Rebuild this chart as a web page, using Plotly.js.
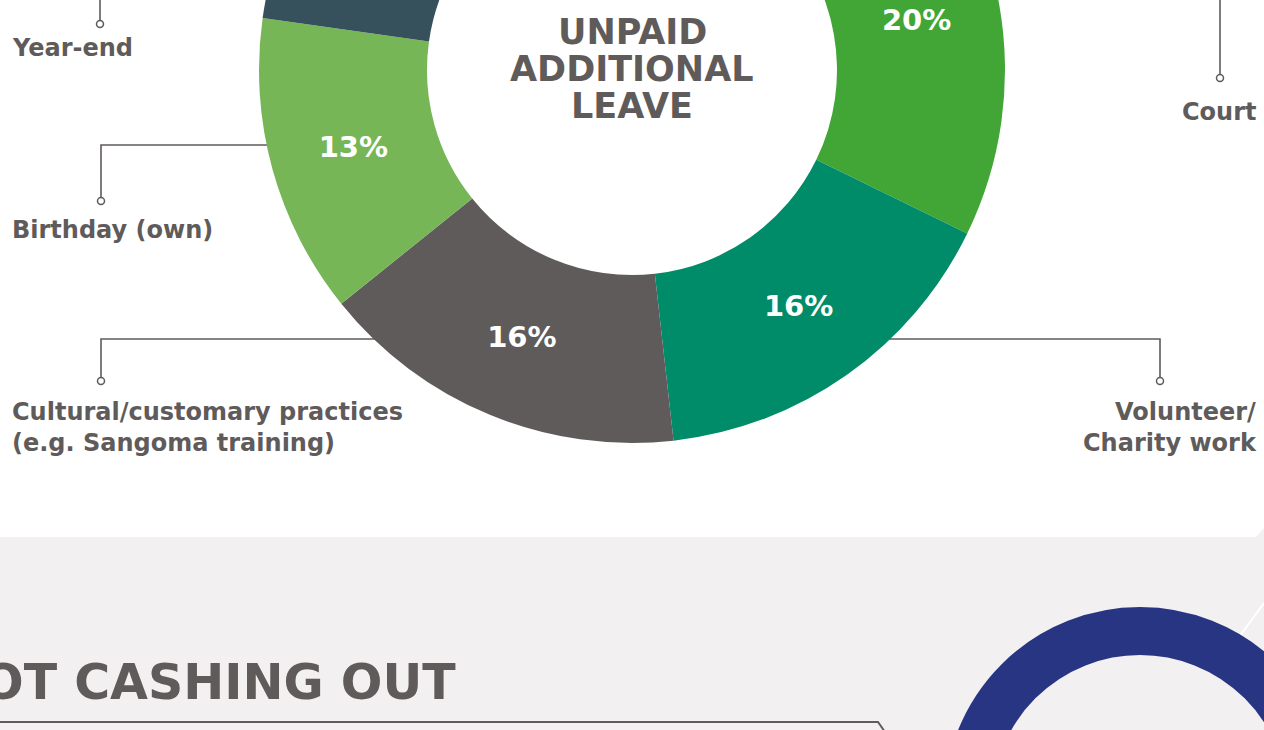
<!DOCTYPE html>
<html>
<head>
<meta charset="utf-8">
<script src="https://cdn.plot.ly/plotly-3.0.1.min.js"></script>
<style>
  html, body { margin: 0; padding: 0; width: 1264px; height: 730px; overflow: hidden; background: #f2f0f1; }
  #chart { position: absolute; left: 0; top: -330px; width: 1264px; height: 1100px; }
</style>
</head>
<body>
<div id="chart"></div>
<script>
// ---- data ----
const categories = ["Court", "Volunteer/<br>Charity work", "Cultural/customary practices<br>(e.g. Sangoma training)", "Birthday (own)", "Year-end", "Study/exam", "Religious"];
const shares = [20, 16, 16, 13, 12, 12, 11];
const sliceColors = ["#42a637", "#008b69", "#5f5b5a", "#77b657", "#36505c", "#1f6f86", "#9ccb6b"];
const sliceTextShown = [true, true, true, true, false, false, false];
const centreTitle = ["UNPAID", "ADDITIONAL", "LEAVE"];
const sectionHeading = "NOT CASHING OUT";

const grey = "#5f5b5a";
const FONT = "DejaVu Sans";

const pie = {
  type: "pie",
  labels: categories,
  values: shares,
  sort: false,
  direction: "clockwise",
  rotation: 44,
  hole: 0.5496,
  marker: { colors: sliceColors, line: { width: 0 } },
  textposition: "inside",
  insidetextorientation: "horizontal",
  texttemplate: sliceTextShown.map(s => s ? "%{value}%" : ""),
  insidetextfont: { family: FONT, size: 29, color: "#ffffff", weight: 700 },
  domain: { x: [259 / 1264, 1005 / 1264], y: [0.29727, 0.97545] },
  showlegend: false,
  hoverinfo: "label+percent"
};

const lineStyle = { color: grey, width: 1.6 };
const shapes = [
  // white top panel with chamfered corner
  { type: "path", xref: "x", yref: "y", layer: "below", path: "M0,-330 L1264,-330 L1264,528 L1256,537 L0,537 Z", fillcolor: "#ffffff", line: { width: 0 } },
  // faint diagonal
  { type: "line", xref: "x", yref: "y", layer: "below", x0: 1264, y0: 603, x1: 1236, y1: 641, line: { color: "#ffffff", width: 2 } },
  // blue ring
  { type: "circle", xref: "x", yref: "y", layer: "below", x0: 968, x1: 1312, y0: 631, y1: 975, line: { color: "#283583", width: 48 }, fillcolor: "rgba(0,0,0,0)" },
  // heading underline
  { type: "path", xref: "x", yref: "y", layer: "below", path: "M-5,722 L878,722 L892,742", line: { color: grey, width: 2 } },
  // callouts
  { type: "path", xref: "x", yref: "y", layer: "below", path: "M100,20 L100,-60 L300,-60", line: lineStyle },
  { type: "path", xref: "x", yref: "y", layer: "below", path: "M300,145 L101,145 L101,197", line: lineStyle },
  { type: "path", xref: "x", yref: "y", layer: "below", path: "M420,339 L101,339 L101,377", line: lineStyle },
  { type: "path", xref: "x", yref: "y", layer: "below", path: "M860,339 L1160,339 L1160,377", line: lineStyle },
  { type: "path", xref: "x", yref: "y", layer: "below", path: "M1220,74 L1220,-60 L1000,-60", line: lineStyle }
];
const dots = [[100, 24], [101, 201], [101, 381], [1160, 381], [1220, 78]];
dots.forEach(d => shapes.push({ type: "circle", xref: "x", yref: "y", layer: "below", x0: d[0] - 3.5, x1: d[0] + 3.5, y0: d[1] - 3.5, y1: d[1] + 3.5, fillcolor: "#ffffff", line: { color: grey, width: 1.5 } }));

const labelFont = { family: FONT, size: 24, color: grey, weight: 700 };
const annotations = [
  { text: categories[4], x: 10, y: 48, xanchor: "left", align: "left" },
  { text: categories[3], x: 10, y: 230, xanchor: "left", align: "left" },
  { text: categories[2], x: 10, y: 427, xanchor: "left", align: "left" },
  { text: categories[1], x: 1259, y: 427, xanchor: "right", align: "right" },
  { text: categories[0], x: 1259, y: 112, xanchor: "right", align: "right" }
].map(a => Object.assign({ xref: "x", yref: "y", yanchor: "middle", showarrow: false, font: labelFont }, a));

const titleFont = { family: FONT, size: 35, color: grey, weight: 700 };
const titleY = [32, 69, 106];
centreTitle.forEach((t, i) => annotations.push({ text: t, x: 632, y: titleY[i], xref: "x", yref: "y", xanchor: "center", yanchor: "middle", showarrow: false, font: titleFont }));

annotations.push({ text: sectionHeading, x: 458, y: 682, xref: "x", yref: "y", xanchor: "right", yanchor: "middle", showarrow: false, font: { family: FONT, size: 49, color: grey, weight: 700 } });

const layout = {
  width: 1264,
  height: 1100,
  margin: { l: 0, r: 0, t: 0, b: 0, pad: 0 },
  paper_bgcolor: "#f2f0f1",
  plot_bgcolor: "rgba(0,0,0,0)",
  xaxis: { range: [0, 1264], visible: false, fixedrange: true },
  yaxis: { range: [770, -330], visible: false, fixedrange: true },
  shapes: shapes,
  annotations: annotations,
  showlegend: false
};

Plotly.newPlot("chart", [pie], layout, { displayModeBar: false, staticPlot: true });
</script>
</body>
</html>
